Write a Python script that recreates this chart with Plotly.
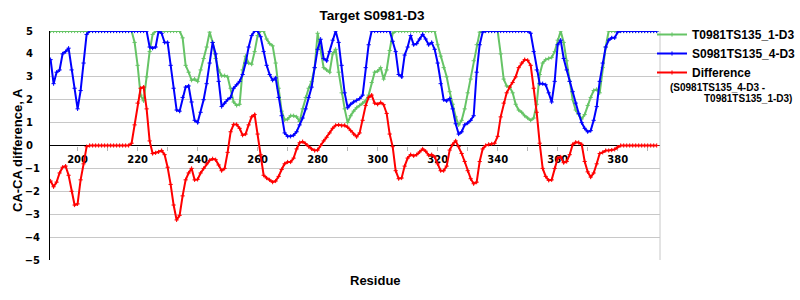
import plotly.graph_objects as go

residues = list(range(191, 394))

y_tickvals = [5, 4, 3, 2, 1, 0, -1, -2, -3, -4, -5]
y_ticktext = ["5\u2007", "4\u2007", "3\u2007", "2\u2007", "1\u2007", "0\u2007",
              "\u22121", "\u22122", "\u22123", "\u22124", "\u22125"]

t0981_1 = [
    5, 5, 5, 5, 5, 5, 5, 5, 5, 5,
    5, 5, 5, 5, 5, 5, 5, 5, 5, 5,
    5, 5, 5, 5, 5, 5, 5, 5, 4.5, 3.5,
    2.2, 1.95, 3.0, 4.1, 4.85, 5, 5, 5, 5, 5,
    5, 5, 5, 5, 4.7, 3.5, 3.2, 2.85, 2.9, 2.8,
    3.3, 3.8, 4.3, 4.95, 4.5, 3.8, 3.3, 3.05, 3.05, 3.0,
    2.5, 1.9, 1.75, 1.8, 3.3, 3.9, 3.6, 3.55, 4.1, 4.8,
    5, 5, 4.65, 4.45, 4.35, 3.6, 2.5, 1.5, 1.12, 1.15,
    1.3, 1.3, 1.25, 1.05, 1.6, 2.1, 2.5, 2.8, 3.4, 4.9,
    4.2, 3.4, 3.3, 3.2, 4.0, 4.2, 3.2, 2.3, 1.6, 1.0,
    1.3, 1.5, 1.65, 1.75, 1.85, 1.95, 2.2, 2.75, 3.2, 3.25,
    3.4, 2.9, 3.3, 4.15, 4.9, 5, 5, 5, 5, 5,
    5, 5, 5, 5, 5, 5, 5, 5, 5, 4.4,
    3.9, 3.4, 3.0, 2.35, 1.8, 1.25, 0.9, 1.1, 1.6, 2.3,
    2.9, 3.7, 4.4, 4.95, 5, 5, 5, 5, 5, 5,
    4.0, 2.9, 2.6, 2.55, 2.3, 1.8, 1.55, 1.45, 1.3, 1.2,
    1.1, 1.2, 1.8, 3.1, 3.6, 3.75, 3.8, 3.85, 4.1, 4.6,
    5, 4.5, 3.7, 2.8, 2.0, 1.55, 1.35, 1.16, 1.35, 1.75,
    2.1, 2.4, 2.45, 2.3, 3.4, 4.3, 5, 5, 5, 5,
    5, 5, 5, 5, 5, 5, 5, 5, 5, 5,
    5, 5, 5,
]

s0981_4 = [
    3.75, 2.7, 3.2, 3.3, 4.0, 4.1, 4.25, 3.3, 2.5, 1.6,
    2.4, 3.6, 4.85, 5, 5, 5, 5, 5, 5, 5,
    5, 5, 5, 5, 5, 5, 5, 5, 5, 5,
    5, 5, 5, 4.3, 4.25, 4.3, 5, 4.9, 4.5, 4.5,
    3.5, 2.5, 1.55, 1.5, 2.1, 2.55, 2.6, 1.9, 1.1, 1.0,
    1.45, 2.0, 2.7, 3.6, 4.5, 4.0, 2.8, 1.7, 1.85, 2.0,
    2.1, 2.5, 2.65, 2.8, 3.1, 3.6, 4.3, 4.8, 5, 5,
    4.75, 4.1, 3.5, 3.1, 2.85, 2.95, 2.1, 1.3, 0.55, 0.4,
    0.4, 0.45, 0.6, 0.9, 1.2, 1.6, 2.1, 2.55, 3.4, 4.2,
    4.64, 3.8, 3.7, 4.1, 4.6, 5, 4.5, 3.5, 2.3, 1.65,
    1.8, 1.9, 1.97, 2.05, 2.2, 3.4, 4.4, 5, 5, 5,
    5, 5, 5, 5, 4.55, 4.1, 3.1, 3.0, 3.95, 4.3,
    4.8, 4.4, 4.45, 4.65, 4.85, 4.65, 4.4, 4.5, 4.2, 3.6,
    2.7, 2.0, 1.95, 2.05, 1.6, 0.95, 0.5, 0.6, 0.9, 0.98,
    1.1, 1.3, 3.2, 4.4, 4.95, 5, 5, 5, 5, 5,
    5, 5, 5, 5, 5, 5, 5, 5, 5, 5,
    4.9, 4.1, 3.3, 2.7, 2.7, 2.65, 2.3, 1.9, 2.8, 4.4,
    4.6, 3.8, 3.3, 2.8, 2.35, 1.85, 1.4, 1.0, 0.75, 0.6,
    0.65, 1.1, 1.7, 2.8, 3.6, 4.3, 4.6, 4.7, 4.7, 4.95,
    5, 5, 5, 5, 5, 5, 5, 5, 5, 5,
    5, 5, 5,
]

difference = [
    -1.55, -1.8, -1.6, -1.2, -0.95, -0.9, -1.3, -2.0, -2.6, -2.55,
    -1.5, -0.8, -0.05, 0, 0, 0, 0, 0, 0, 0,
    0, 0, 0, 0, 0, 0, 0, 0.1, 0.9, 1.85,
    2.5, 2.55, 1.6, 0.2, -0.35, -0.32, -0.28, -0.22, -0.4, -0.95,
    -1.7, -2.6, -3.25, -3.05, -2.2, -1.5, -1.2, -1.0, -1.5, -1.48,
    -1.2, -1.0, -0.8, -0.65, -0.58, -0.62, -0.85, -1.1, -1.0, -0.3,
    0.6, 0.92, 0.92, 0.75, 0.45, 0.5, 0.9, 1.25, 1.35, 0.5,
    -0.4, -1.3, -1.42, -1.5, -1.6, -1.55, -1.35, -1.05, -0.8, -0.72,
    -0.72, -0.55, -0.15, 0.12, 0.17, 0.08, -0.05, -0.15, -0.22, -0.2,
    0.0, 0.2, 0.36, 0.55, 0.75, 0.88, 0.9, 0.87, 0.88, 0.8,
    0.65, 0.5, 0.38, 0.55, 1.1, 1.75, 2.1, 2.2, 1.85, 1.8,
    1.88, 1.78, 1.4, 0.5, -0.05, -1.1, -1.45, -1.42, -0.9, -0.55,
    -0.4, -0.45, -0.4, -0.28, -0.15, -0.25, -0.42, -0.4, -0.5, -0.8,
    -1.1, -1.1, -0.9, -0.2, 0.05, 0.2, -0.05, -0.35, -0.7, -1.1,
    -1.45, -1.67, -1.6, -0.7, -0.15, 0.0, 0.05, 0.07, 0.1, 0.4,
    1.25, 1.85, 2.3, 2.55, 2.75, 3.0, 3.4, 3.6, 3.75, 3.72,
    3.5, 2.5, 1.45, 0.1, -1.0, -1.35, -1.52, -1.5, -1.0, -0.55,
    -0.5, -0.75, -0.7, -0.4, 0.05, 0.14, 0.13, 0.05, -0.7, -1.15,
    -1.38, -1.2, -0.8, -0.35, -0.3, -0.22, -0.22, -0.2, -0.17, -0.07,
    0, 0, 0, 0, 0, 0, 0, 0, 0, 0,
    0, 0, 0,
]

assert len(t0981_1) == len(residues) == len(s0981_4) == len(difference)

series = [
    ("T0981TS135_1-D3", t0981_1, "#66C466"),
    ("S0981TS135_4-D3", s0981_4, "#0000FF"),
    ("Difference", difference, "#FF0000"),
]

BOLD = "Liberation Sans"
TICKF = "DejaVu Sans"

fig = go.Figure()
for name, vals, color in series:
    fig.add_trace(go.Scatter(
        x=residues, y=vals, name=name, mode="lines+markers",
        line=dict(color=color, width=2),
        marker=dict(symbol="cross-thin", size=3, line=dict(color=color, width=1), color=color),
    ))

fig.update_layout(
    width=800, height=300,
    margin=dict(l=50, r=140, t=31, b=40, autoexpand=False),
    plot_bgcolor="white", paper_bgcolor="white",
    title=dict(text="<b>Target S0981-D3</b>", x=372 / 800, xref="container", xanchor="center",
               y=1 - 15 / 300, yref="container", yanchor="middle",
               font=dict(family=BOLD, size=13.5, color="black")),
    showlegend=True,
    legend=dict(x=(652 - 50) / 610, xanchor="left", y=(260 - 20) / 229, yanchor="top",
                font=dict(family=BOLD, size=12, color="black", weight="bold"),
                itemwidth=30, tracegroupgap=0, bgcolor="rgba(0,0,0,0)",
                borderwidth=0),
    xaxis=dict(range=[190.8, 394.1], anchor="free", position=0.5,
               showgrid=False, zeroline=False, showline=False,
               tick0=200, dtick=20, ticks="outside", ticklen=4, tickcolor="#b4b4b4",
               minor=dict(tick0=200, dtick=10, ticks="outside", ticklen=4, tickcolor="#b4b4b4"),
               tickfont=dict(family=TICKF, size=10, color="black", weight="bold"),
               layer="below traces", automargin=False),
    yaxis=dict(range=[-5, 5], tickmode="array", tickvals=y_tickvals, ticktext=y_ticktext,
               automargin=False,
               showgrid=True, gridcolor="#c8c8c8", gridwidth=1,
               zeroline=True, zerolinecolor="black", zerolinewidth=1,
               showline=True, linecolor="black", linewidth=1,
               ticks="", ticklabelstandoff=7,
               tickfont=dict(family=TICKF, size=10, color="black", weight="bold"),
               layer="below traces"),
    shapes=[dict(type="line", xref="paper", yref="paper", x0=1, x1=1, y0=0, y1=1,
                 line=dict(color="#c8c8c8", width=1))],
    annotations=[
        dict(text="<b>CA-CA difference, A</b>", xref="paper", yref="paper",
             x=(17 - 50) / 610, y=(260 - 150) / 229, xanchor="center", yanchor="middle",
             textangle=-90, showarrow=False,
             font=dict(family=BOLD, size=13, color="black")),
        dict(text="<b>Residue</b>", xref="paper", yref="paper", x=(375 - 50) / 610, y=-0.05,
             xanchor="center", yanchor="top", showarrow=False,
             font=dict(family=BOLD, size=13, color="black")),
        dict(text="<b>(S0981TS135_4-D3 -</b>", xref="paper", yref="paper",
             x=(668 - 50) / 610, y=(260 - 87) / 229, xanchor="left", yanchor="middle",
             showarrow=False, font=dict(family=BOLD, size=10, color="black")),
        dict(text="<b>T0981TS135_1-D3)</b>", xref="paper", yref="paper",
             x=(702 - 50) / 610, y=(260 - 98) / 229, xanchor="left", yanchor="middle",
             showarrow=False, font=dict(family=BOLD, size=10, color="black")),
    ],
)

fig.write_html("out.html")
